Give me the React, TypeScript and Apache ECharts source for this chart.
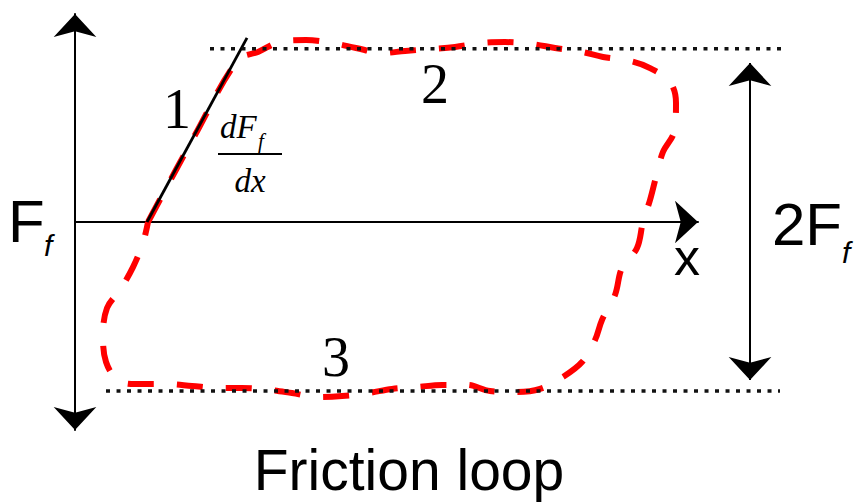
import React, { useEffect, useRef } from "react";
import * as echarts from "echarts";

// Axis ranges (displacement x, friction force F in units of Ff)
const X_MIN = 0;
const X_MAX = 10;
const X_DATA_MAX = 12.5;
const F_MIN = -1.2;
const F_MAX = 1.2;

// Friction loop trace (red dashed): displacement and force
const loopX = [1.172, 1.926, 2.616, 2.937, 3.339, 3.708, 4.125, 4.51, 4.944, 5.297, 5.73, 6.1, 6.533, 6.902, 7.335, 7.705, 8.138, 8.475, 8.909, 9.23, 9.551, 9.647, 9.615, 9.438, 9.326, 9.23, 9.117, 9.021, 8.78, 8.668, 8.459, 8.347, 8.138, 7.833, 7.464, 7.095, 6.661, 6.292, 5.891, 5.49, 5.088, 4.703, 4.286, 3.9, 3.483, 3.13, 2.681, 2.295, 1.878, 1.493, 0.963, 0.69, 0.498, 0.449, 0.514, 0.722, 0.931, 1.091, 1.172];
const loopF = [0, 0.502, 0.935, 0.981, 1.044, 1.05, 1.033, 1.004, 0.975, 0.987, 0.998, 1.01, 1.033, 1.038, 1.027, 1.004, 0.981, 0.952, 0.929, 0.888, 0.808, 0.687, 0.519, 0.404, 0.26, 0.127, 0, -0.15, -0.265, -0.421, -0.565, -0.681, -0.808, -0.894, -0.963, -0.981, -0.975, -0.94, -0.94, -0.952, -0.963, -0.987, -1.004, -1.01, -0.987, -0.969, -0.958, -0.958, -0.946, -0.935, -0.935, -0.912, -0.808, -0.652, -0.496, -0.392, -0.26, -0.121, 0];

// Tangent (stick slope dFf/dx)
const tangentX = [1.156, 2.761];
const tangentF = [0, 1.062];

// Friction limits (dotted)
const upperX = [2.167, 11.364];
const upperF = [1.0, 1.0];
const lowerX = [0.498, 11.316];
const lowerF = [-0.975, -0.975];

// 2Ff span arrow
const spanX = [10.835, 10.835];
const spanF = [0.917, -0.912];

const zip = (a: number[], b: number[]) => a.map((v, i) => [v, b[i]]);

const SANS = '"Liberation Sans", Arial, sans-serif';
const SERIF = '"Liberation Serif", "Times New Roman", serif';

function txt(text: string, x: number, y: number, size: number, family: string, italic = false, align = "left") {
  return {
    type: "text",
    x,
    y,
    z: 10,
    style: {
      text,
      fill: "#000",
      font: `${italic ? "italic " : ""}${size}px ${family}`,
      lineHeight: size,
      textAlign: align,
      textVerticalAlign: "middle",
      align,
      verticalAlign: "middle",
    },
  };
}

const hiddenAxis = {
  show: false,
  axisLine: { show: false },
  axisTick: { show: false },
  axisLabel: { show: false },
  splitLine: { show: false },
};

export default function App() {
  const ref = useRef<HTMLDivElement>(null);
  useEffect(() => {
    if (!ref.current) return;
    const chart = echarts.init(ref.current, undefined, { renderer: "svg" });
    const arrowSize = [32, 23];
    const dataAxes = { xAxisIndex: 1, yAxisIndex: 1 };
    chart.setOption({
      animation: false,
      backgroundColor: "#ffffff",
      grid: [
        { left: 75, right: 163, top: 14, bottom: 73, containLabel: false },
        { left: 75, right: 7.25, top: 14, bottom: 73, containLabel: false },
      ],
      xAxis: [
        {
          type: "value",
          gridIndex: 0,
          min: X_MIN,
          max: X_MAX,
          axisLine: {
            show: true,
            onZero: true,
            symbol: ["none", "arrow"],
            symbolSize: arrowSize,
            lineStyle: { color: "#000", width: 2 },
          },
          axisTick: { show: false },
          axisLabel: { show: false },
          splitLine: { show: false },
        },
        { type: "value", gridIndex: 1, min: X_MIN, max: X_DATA_MAX, ...hiddenAxis },
      ],
      yAxis: [
        {
          type: "value",
          gridIndex: 0,
          min: F_MIN,
          max: F_MAX,
          axisLine: {
            show: true,
            onZero: true,
            symbol: ["arrow", "arrow"],
            symbolSize: arrowSize,
            lineStyle: { color: "#000", width: 2 },
          },
          axisTick: { show: false },
          axisLabel: { show: false },
          splitLine: { show: false },
        },
        { type: "value", gridIndex: 1, min: F_MIN, max: F_MAX, ...hiddenAxis },
      ],
      series: [
        {
          type: "line",
          ...dataAxes,
          data: zip(loopX, loopF),
          smooth: 0.35,
          symbol: "none",
          z: 2,
          lineStyle: { color: "#ff0000", width: 6, type: [26, 23], cap: "butt" },
        },
        {
          type: "line",
          ...dataAxes,
          data: zip(tangentX, tangentF),
          symbol: "none",
          z: 4,
          lineStyle: { color: "#000", width: 2.8 },
        },
        {
          type: "line",
          ...dataAxes,
          data: zip(upperX, upperF),
          symbol: "none",
          z: 5,
          lineStyle: { color: "#111", width: 3.5, type: [4, 6.5] },
        },
        {
          type: "line",
          ...dataAxes,
          data: zip(lowerX, lowerF),
          symbol: "none",
          z: 5,
          lineStyle: { color: "#111", width: 3.5, type: [4, 6.5] },
          markLine: {
            silent: true,
            symbol: ["arrow", "arrow"],
            symbolSize: arrowSize,
            label: { show: false },
            emphasis: { disabled: true },
            lineStyle: { color: "#000", width: 2, type: "solid" },
            data: [
              [
                { coord: [spanX[0], spanF[0]] },
                { coord: [spanX[1], spanF[1]] },
              ],
            ],
          },
        },
      ],
      graphic: [
        txt("F", 8, 221, 60, SANS),
        txt("f", 44, 245, 30, SANS, true),
        txt("2F", 772, 224, 60, SANS),
        txt("f", 842, 252, 30, SANS, true),
        txt("x", 674, 257, 52, SANS),
        txt("Friction loop", 409, 470, 57, SANS, false, "center"),
        txt("1", 177, 109, 56, SERIF, false, "center"),
        txt("2", 435, 84, 56, SERIF, false, "center"),
        txt("3", 336, 357, 56, SERIF, false, "center"),
        txt("dF", 220, 127, 33, SERIF, true),
        txt("f", 258, 141, 21, SERIF, true),
        {
          type: "line",
          z: 10,
          shape: { x1: 218, y1: 154, x2: 282, y2: 154 },
          style: { stroke: "#000", lineWidth: 2 },
        },
        txt("dx", 250, 181, 33, SERIF, true, "center"),
      ],
    });
    return () => chart.dispose();
  }, []);
  return (
    <div
      ref={ref}
      style={{ position: "absolute", left: 0, top: 0, width: 861, height: 503 }}
    />
  );
}
